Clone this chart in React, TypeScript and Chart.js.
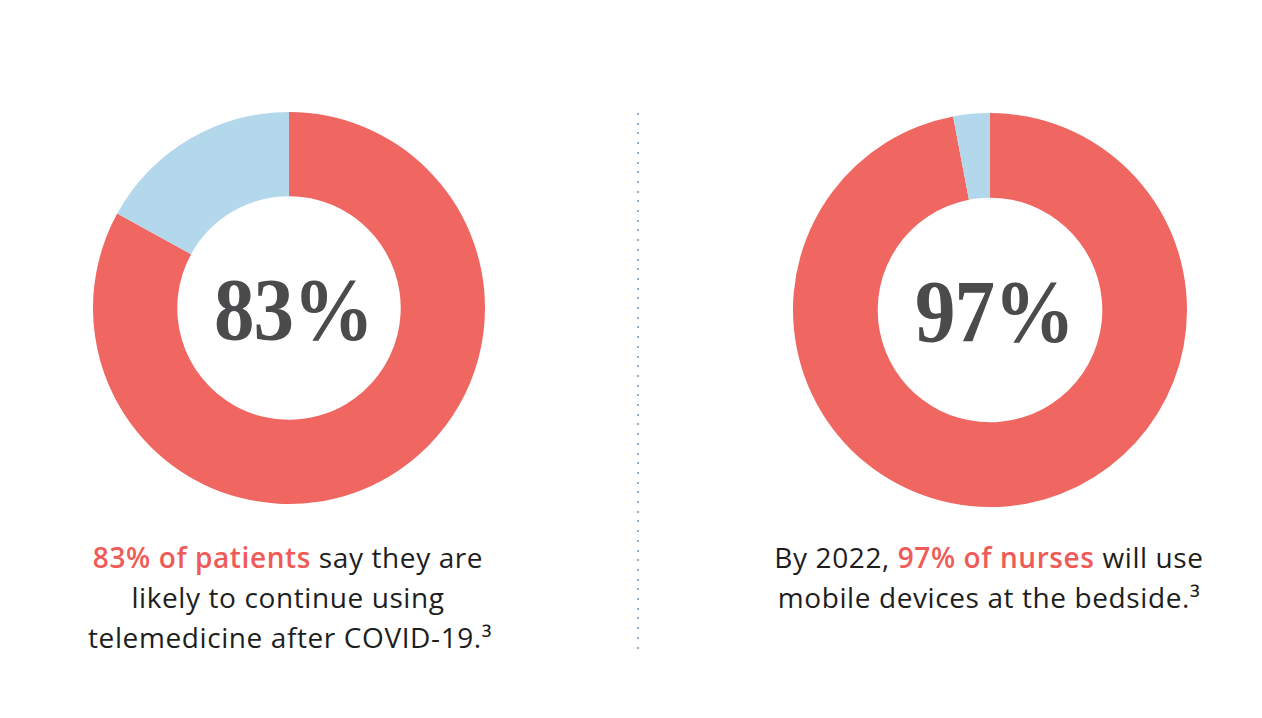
import React, { useEffect, useRef } from "react";
import { Chart, registerables } from "chart.js";

Chart.register(...registerables);

const sliceLabels = ["Yes", "Other"];
const leftValues = [83, 17];
const rightValues = [97, 3];
const sliceColors = ["#F06762", "#B3D8EC"];

const leftCaption = {
  highlight: "83% of patients",
  lines: [" say they are", "likely to continue using", "telemedicine after COVID-19.³"],
};
const rightCaption = {
  before: "By 2022, ",
  highlight: "97% of nurses",
  after: " will use",
  line2: "mobile devices at the bedside.³",
};

function Donut({ values, left, top, size }: { values: number[]; left: number; top: number; size: number }) {
  const ref = useRef<HTMLCanvasElement | null>(null);
  useEffect(() => {
    if (!ref.current) return;
    const chart = new Chart(ref.current, {
      type: "doughnut",
      data: {
        labels: sliceLabels,
        datasets: [
          {
            data: values,
            backgroundColor: sliceColors,
            borderWidth: 0,
          },
        ],
      },
      options: {
        animation: false,
        responsive: false,
        maintainAspectRatio: false,
        devicePixelRatio: 1,
        cutout: "57%",
        layout: { padding: 0 },
        plugins: { legend: { display: false }, tooltip: { enabled: false } },
      },
    });
    return () => chart.destroy();
  }, [values]);
  return (
    <div style={{ position: "absolute", left, top, width: size, height: size }}>
      <canvas ref={ref} width={size} height={size} style={{ width: size, height: size, display: "block" }} />
      <div
        style={{
          position: "absolute",
          left: 0,
          top: 0,
          width: size,
          height: size,
          display: "flex",
          alignItems: "center",
          justifyContent: "center",
        }}
      >
        <span
          style={{
            fontFamily: "'Liberation Serif', 'DejaVu Serif', serif",
            fontWeight: 700,
            fontSize: 88,
            lineHeight: 1,
            color: "#4B4B4D",
            transform: "translate(4px, 2px) scaleX(0.92)",
            display: "inline-block",
            letterSpacing: -1,
          }}
        >
          {values[0]}%
        </span>
      </div>
    </div>
  );
}

const textStyle: React.CSSProperties = {
  position: "absolute",
  fontFamily: "'Open Sans', sans-serif",
  fontWeight: 400,
  fontSize: 28,
  letterSpacing: 0.6,
  lineHeight: "40px",
  color: "#1E1E1E",
  textAlign: "center",
  whiteSpace: "nowrap",
};
const redStyle: React.CSSProperties = { color: "#EF5B57", fontWeight: 600 };

export default function App() {
  return (
    <div
      style={{
        position: "fixed",
        left: 0,
        top: 0,
        width: 1262,
        height: 718,
        background: "#FFFFFF",
        overflow: "hidden",
      }}
    >
      <Donut values={leftValues} left={93} top={112} size={392} />
      <Donut values={rightValues} left={793} top={113} size={394} />
      <div
        style={{
          position: "absolute",
          left: 637,
          top: 113,
          width: 2,
          height: 538,
          backgroundImage: "repeating-linear-gradient(to bottom, #8FB2D0 0px, #8FB2D0 2px, transparent 2px, transparent 9.7px)",
        }}
      />
      <div style={{ ...textStyle, left: 88, width: 400, top: 537 }}>
        <span style={redStyle}>{leftCaption.highlight}</span>
        {leftCaption.lines[0]}
        <br />
        {leftCaption.lines[1]}
        <br />
        {leftCaption.lines[2]}
      </div>
      <div style={{ ...textStyle, left: 770, width: 438, top: 537 }}>
        {rightCaption.before}
        <span style={redStyle}>{rightCaption.highlight}</span>
        {rightCaption.after}
        <br />
        {rightCaption.line2}
      </div>
    </div>
  );
}
